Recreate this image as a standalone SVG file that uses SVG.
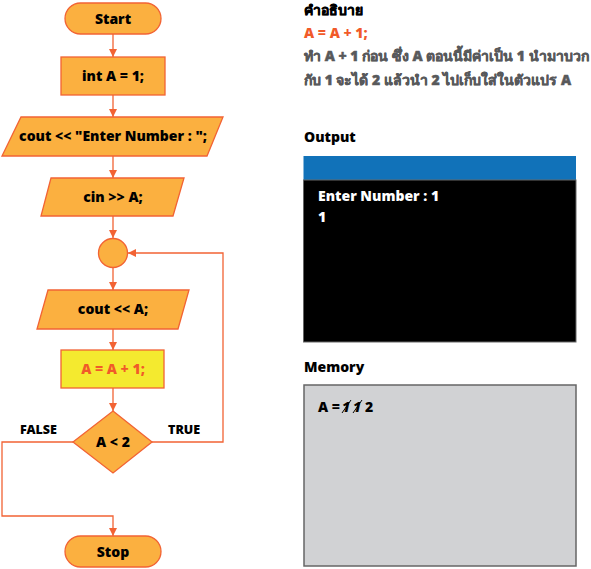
<svg xmlns="http://www.w3.org/2000/svg" width="591" height="569" viewBox="0 0 591 569">
<style>
.shape{fill:#fbb040;stroke:#f26334;stroke-width:1.3}
.hl{fill:#f4ea2f;stroke:#f26334;stroke-width:1.3}
.conn{fill:none;stroke:#f26334;stroke-width:1.3}
text{font-family:"Noto Sans","Liberation Sans",sans-serif;font-weight:900}
.lbl{font-size:14px;fill:#000;text-anchor:middle}
.small{font-size:12.5px;fill:#000}
.title{font-size:14px;fill:#000}
.desc{font-size:14px;fill:#58595b}
.thai{stroke-width:0.5;stroke-linejoin:round}
.term{font-size:14px;fill:#fff}
</style>
<defs>
<marker id="arr" viewBox="0 0 10 10" refX="10" refY="5" markerWidth="8" markerHeight="8" markerUnits="userSpaceOnUse" orient="auto">
<path d="M0,0 L10,5 L0,10 z" fill="#f26334"/>
</marker>
</defs>
<g id="connectors">
<path class="conn" d="M113,34 V57" marker-end="url(#arr)"/>
<path class="conn" d="M113,95 V117" marker-end="url(#arr)"/>
<path class="conn" d="M113,156 V178" marker-end="url(#arr)"/>
<path class="conn" d="M113,216 V238" marker-end="url(#arr)"/>
<path class="conn" d="M113,268 V290" marker-end="url(#arr)"/>
<path class="conn" d="M113,329 V350" marker-end="url(#arr)"/>
<path class="conn" d="M113,388 V411" marker-end="url(#arr)"/>
<path class="conn" d="M152,442 H223 V253 H128" marker-end="url(#arr)"/>
<path class="conn" d="M73,442 H2 V516 H113 V536" marker-end="url(#arr)"/>
<text class="small" x="20" y="434">FALSE</text>
<text class="small" x="168" y="434">TRUE</text>
</g>
<g id="start">
<rect class="shape" x="65" y="3" width="96" height="31" rx="15.5"/>
<text class="lbl" x="113" y="23.5">Start</text>
</g>
<g id="init">
<rect class="shape" x="61" y="57" width="104" height="38"/>
<text class="lbl" x="113" y="81">int A = 1;</text>
</g>
<g id="prompt">
<polygon class="shape" points="21,117 223,117 207,156 2,156"/>
<text class="lbl" x="113" y="141">cout &lt;&lt; "Enter Number : ";</text>
</g>
<g id="input">
<polygon class="shape" points="51,178 184,178 173,216 41,216"/>
<text class="lbl" x="113" y="202">cin &gt;&gt; A;</text>
</g>
<g id="join">
<circle class="shape" cx="113" cy="253" r="14.5"/>
</g>
<g id="print">
<polygon class="shape" points="48,290 189,290 178,329 37,329"/>
<text class="lbl" x="113" y="314">cout &lt;&lt; A;</text>
</g>
<g id="increment">
<rect class="hl" x="61" y="350" width="103" height="38"/>
<text class="lbl" x="113" y="374" style="fill:#f15a29">A = A + 1;</text>
</g>
<g id="decision">
<polygon class="shape" points="113,411 152,442 113,473 73,442"/>
<text class="lbl" x="113" y="447">A &lt; 2</text>
</g>
<g id="stop">
<rect class="shape" x="65" y="536" width="96" height="31" rx="15.5"/>
<text class="lbl" x="113" y="556.5">Stop</text>
</g>
<g id="description">
<text class="title thai" x="304" y="15" stroke="#000">คำอธิบาย</text>
<text class="title" x="304" y="38" style="fill:#f15a29">A = A + 1;</text>
<text class="desc thai" x="304" y="61" stroke="#58595b">ทำ A + 1 ก่อน ซึ่ง A ตอนนี้มีค่าเป็น 1 นำมาบวก</text>
<text class="desc thai" x="304" y="85" stroke="#58595b">กับ 1 จะได้ 2 แล้วนำ 2 ไปเก็บใส่ในตัวแปร A</text>
</g>
<g id="output">
<text class="title" x="304" y="142">Output</text>
<rect x="303.5" y="156" width="272.5" height="24" fill="#1172b9"/>
<rect x="303.5" y="180" width="272.5" height="162" fill="#000" stroke="#666" stroke-width="1"/>
<text class="term" x="318" y="201">Enter Number : 1</text>
<text class="term" x="318" y="222">1</text>
</g>
<g id="memory">
<text class="title" x="304" y="372">Memory</text>
<rect x="304" y="385" width="272" height="181" fill="#d1d2d4" stroke="#666" stroke-width="1.5"/>
<text class="title" x="318" y="412">A =</text>
<text class="title" x="342" y="412" font-style="italic">1</text>
<text class="title" x="353" y="412" font-style="italic">1</text>
<text class="title" x="365" y="412">2</text>
<path d="M342,413 L351,400 M353,413 L362,400" stroke="#000" stroke-width="1" fill="none"/>
</g>
</svg>
